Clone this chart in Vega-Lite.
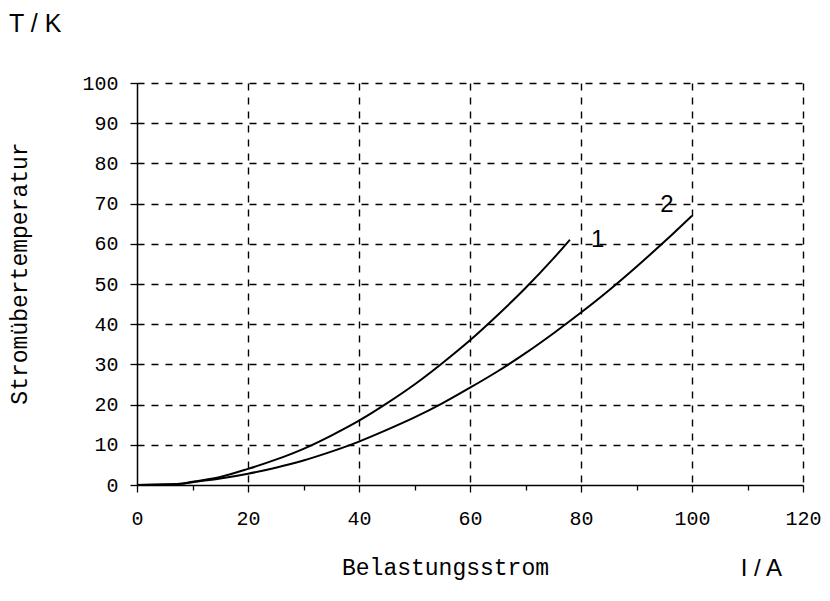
{
  "$schema": "https://vega.github.io/schema/vega-lite/v6.json",
  "autosize": "none",
  "width": 666,
  "height": 402,
  "padding": {"left": 137, "top": 83, "right": 27, "bottom": 116},
  "background": "white",
  "config": {
    "view": {"stroke": null},
    "axis": {"labelFont": "Liberation Mono", "titleFont": "Liberation Mono", "labelColor": "black", "titleColor": "black", "titleFontWeight": "normal", "domainColor": "black", "domainWidth": 1.5, "tickColor": "black", "tickWidth": 1.3, "gridColor": "black", "gridWidth": 1.4, "gridDash": [7, 7]}
  },
  "title": {"text": "T / K", "anchor": "start", "frame": "bounds", "font": "Liberation Sans", "fontSize": 25, "fontWeight": "normal", "color": "black", "offset": 36},
  "datasets": {
    "curves": [
      {"I": 0, "T": 0, "c": "1"}, {"I": 8, "T": 0.3, "c": "1"}, {"I": 10, "T": 0.8, "c": "1"}, {"I": 15, "T": 2, "c": "1"}, {"I": 20, "T": 4, "c": "1"}, {"I": 25, "T": 6.3, "c": "1"}, {"I": 30, "T": 9, "c": "1"}, {"I": 35, "T": 12.3, "c": "1"}, {"I": 40, "T": 16, "c": "1"}, {"I": 45, "T": 20.3, "c": "1"}, {"I": 50, "T": 25, "c": "1"}, {"I": 55, "T": 30.3, "c": "1"}, {"I": 60, "T": 36, "c": "1"}, {"I": 65, "T": 42.3, "c": "1"}, {"I": 70, "T": 49, "c": "1"}, {"I": 75, "T": 56.3, "c": "1"}, {"I": 78, "T": 61, "c": "1"},
      {"I": 0, "T": 0, "c": "2"}, {"I": 8, "T": 0.3, "c": "2"}, {"I": 10, "T": 0.7, "c": "2"}, {"I": 15, "T": 1.6, "c": "2"}, {"I": 20, "T": 2.8, "c": "2"}, {"I": 25, "T": 4.3, "c": "2"}, {"I": 30, "T": 6.1, "c": "2"}, {"I": 35, "T": 8.3, "c": "2"}, {"I": 40, "T": 10.8, "c": "2"}, {"I": 45, "T": 13.7, "c": "2"}, {"I": 50, "T": 16.8, "c": "2"}, {"I": 55, "T": 20.3, "c": "2"}, {"I": 60, "T": 24.2, "c": "2"}, {"I": 65, "T": 28.3, "c": "2"}, {"I": 70, "T": 32.8, "c": "2"}, {"I": 75, "T": 37.7, "c": "2"}, {"I": 80, "T": 42.9, "c": "2"}, {"I": 85, "T": 48.4, "c": "2"}, {"I": 90, "T": 54.3, "c": "2"}, {"I": 95, "T": 60.5, "c": "2"}, {"I": 100, "T": 67, "c": "2"}
    ],
    "labels": [
      {"I": 83, "T": 61, "text": "1"},
      {"I": 95.5, "T": 69.7, "text": "2"},
      {"I": 112.5, "T": -21, "text": "I / A"}
    ]
  },
  "layer": [
    {
      "data": {"name": "curves"},
      "mark": {"type": "line", "color": "black", "strokeWidth": 2, "interpolate": "monotone"},
      "encoding": {
        "x": {"field": "I", "type": "quantitative", "scale": {"domain": [0, 120], "nice": false},
          "axis": {"values": [0,5,10,15,20,25,30,35,40,45,50,55,60,65,70,75,80,85,90,95,100,105,110,115,120],
            "labelExpr": "datum.value % 20 === 0 ? datum.label : ''",
            "gridOpacity": {"condition": {"test": "datum.value % 20 === 0 && datum.value > 0", "value": 1}, "value": 0},
            "tickSize": {"condition": {"test": "datum.value % 20 === 0", "value": 7}, "value": 5},
            "labelFontSize": 20, "labelPadding": 16, "labelFlush": false, "labelOverlap": false,
            "title": "Belastungsstrom", "titleFontSize": 23, "titlePadding": 28, "titleX": 308}},
        "y": {"field": "T", "type": "quantitative", "scale": {"domain": [0, 100], "nice": false},
          "axis": {"values": [0,5,10,15,20,25,30,35,40,45,50,55,60,65,70,75,80,85,90,95,100],
            "labelExpr": "datum.value % 10 === 0 ? datum.label : ''",
            "gridOpacity": {"condition": {"test": "datum.value % 10 === 0 && datum.value > 0", "value": 1}, "value": 0},
            "tickSize": {"condition": {"test": "datum.value % 10 === 0", "value": 7}, "value": 5},
            "labelFontSize": 20, "labelPadding": 12, "labelFlush": false, "labelOverlap": false,
            "title": "Stromübertemperatur", "titleFontSize": 23, "titlePadding": 50, "titleY": 190}},
        "detail": {"field": "c"}
      }
    },
    {
      "data": {"name": "labels"},
      "mark": {"type": "text", "font": "Liberation Sans", "fontSize": 24, "color": "black", "clip": false},
      "encoding": {
        "x": {"field": "I", "type": "quantitative"},
        "y": {"field": "T", "type": "quantitative"},
        "text": {"field": "text"}
      }
    }
  ]
}
